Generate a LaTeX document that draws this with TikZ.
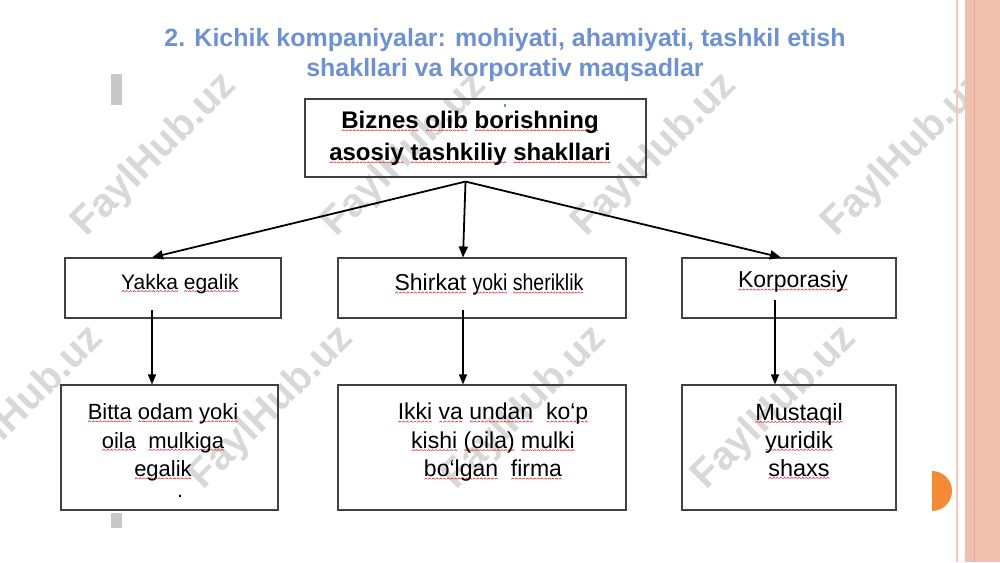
\documentclass[tikz,border=0pt]{standalone}
\usepackage{fontspec}
\setmainfont{Liberation Sans}
\usepackage{graphicx}
\usetikzlibrary{arrows.meta}
\definecolor{titleblue}{HTML}{6E91D2}
\definecolor{boxline}{HTML}{404040}
\definecolor{wm}{HTML}{D8D8D8}
\definecolor{stripe}{HTML}{F9C8B4}
\definecolor{band}{HTML}{EFC0AE}
\definecolor{bandline}{HTML}{E6A890}
\definecolor{orangedot}{HTML}{F58A35}
\definecolor{barg}{HTML}{C8C8C8}
\definecolor{wavered}{HTML}{E83030}
\newsavebox\wavebox
\newsavebox\wvtmp
\newcommand\wv[1]{\sbox\wvtmp{#1}\rlap{\lower2.6pt\hbox to\wd\wvtmp{\xleaders\copy\wavebox\hfil}}\usebox\wvtmp}
\begin{document}
\sbox\wavebox{\begin{pgfpicture}%
  \pgfsetlinewidth{0.6pt}\pgfsetstrokecolor{wavered}%
  \pgfpathmoveto{\pgfpoint{0pt}{0pt}}%
  \pgfpathlineto{\pgfpoint{1.5pt}{1.2pt}}%
  \pgfpathlineto{\pgfpoint{3pt}{0pt}}%
  \pgfusepath{stroke}%
  \end{pgfpicture}}%
\begin{tikzpicture}[x=1pt,y=-1pt,
  box/.style={draw=boxline,line width=1.1pt,inner sep=0pt},
  lbl/.style={align=center,inner sep=0pt,text=black},
  arr/.style={-{Triangle[length=11pt,width=9pt]},line width=1.8pt},
  varr/.style={-{Triangle[length=10pt,width=8pt]},line width=1.3pt},
  wmark/.style={text=wm,font=\fontsize{40}{40}\selectfont\bfseries,rotate=45,inner sep=0pt}]
\useasboundingbox (0,0) rectangle (1000,562);
\clip (0,0) rectangle (1000,562);
\fill[white] (0,0) rectangle (1000,562);
% watermarks
\node[wmark] (w1) at (155,155) {FaylHub.uz};
\node[wmark] (w2) at (405,155) {FaylHub.uz};
\node[wmark] (w3) at (655,155) {FaylHub.uz};
\node[wmark] (w4) at (905,155) {FaylHub.uz};
\node[wmark] (w5) at (22,408) {FaylHub.uz};
\node[wmark] (w6) at (272,408) {FaylHub.uz};
\node[wmark] (w7) at (525,408) {FaylHub.uz};
\node[wmark] (w8) at (775,408) {FaylHub.uz};
% right decoration
\fill[band] (965,0) rectangle (1000,562);
\draw[bandline,line width=1pt] (974,0) -- (974,562);
\draw[stripe,line width=2.5pt] (957,0) -- (957,562);
\begin{scope}
  \clip (932,460) rectangle (960,520);
  \fill[orangedot] (932,491) circle (20pt);
\end{scope}
% left bars
\fill[barg] (111,74) rectangle (122,105);
\fill[barg] (111,513) rectangle (122,528);
% title
\node[lbl,text=titleblue,font=\fontsize{25}{29.5}\selectfont\bfseries] (title) at (505,55)
  {2. Kichik kompaniyalar: mohiyati, ahamiyati, tashkil etish\\shakllari va korporativ maqsadlar};
% boxes
\node[box,minimum width=341pt,minimum height=78pt] (top) at (475.5,138) {};
\node[box,minimum width=216pt,minimum height=60pt] (b1) at (173,288) {};
\node[box,minimum width=288pt,minimum height=60pt] (b2) at (482,288) {};
\node[box,minimum width=214pt,minimum height=60pt] (b3) at (789,288) {};
\node[box,minimum width=217pt,minimum height=125pt] (c1) at (169.5,447.5) {};
\node[box,minimum width=288pt,minimum height=125pt] (c2) at (482,447.5) {};
\node[box,minimum width=214pt,minimum height=125pt] (c3) at (789,447.5) {};
\fill[titleblue] (504,104) rectangle (506,107);
% texts
\node[lbl,font=\fontsize{24}{32}\selectfont\bfseries] (ttop) at (470,138.5)
  {\wv{Biznes} \wv{olib} \wv{borishning}\\\wv{asosiy} \wv{tashkiliy} \wv{shakllari}};
\node[lbl,font=\fontsize{21}{25}\selectfont] (t1) at (180,284) {\wv{Yakka} \wv{egalik}};
\node[lbl,font=\fontsize{23}{25}\selectfont] (t2) at (489,285)
  {\wv{Shirkat} \scalebox{0.85}[1]{\wv{yoki} \wv{sheriklik}}};
\node[lbl,font=\fontsize{23}{25}\selectfont] (t3) at (793,282) {\wv{Korporasiy}};
\node[lbl,font=\fontsize{22}{28.5}\selectfont] (u1) at (163,442.5)
  {\wv{Bitta} \wv{odam} \wv{yoki}\\\wv{oila}\ \ \wv{mulkiga}\\\wv{egalik}};
\node[lbl,font=\fontsize{21}{29}\selectfont] (dot) at (180,496) {.};
\node[lbl,font=\fontsize{23}{28.5}\selectfont] (u2) at (493,442.5)
  {\wv{Ikki} \wv{va} \wv{undan}\ \ \wv{ko‘p}\\\wv{kishi} \wv{(oila)} \wv{mulki}\\\wv{bo‘lgan}\ \ \wv{firma}};
\node[lbl,font=\fontsize{23.5}{28}\selectfont] (u3) at (799,441) {\wv{Mustaqil}\\\wv{yuridik}\\\wv{shaxs}};
% connectors
\coordinate (hub) at ([xshift=-10pt,yshift=-4pt]top.south);
\coordinate (e1) at ([xshift=-21pt]b1.north);
\coordinate (e2) at ([xshift=-19pt]b2.north);
\coordinate (e3) at ([xshift=-8pt]b3.north);
\draw[arr] (hub) -- (e1);
\draw[arr] (hub) -- (e2);
\draw[arr] (hub) -- (e3);
\coordinate (s1) at (152,310);
\coordinate (s2) at (463,310);
\coordinate (s3) at (775,300);
\draw[varr] (s1) -- (s1 |- c1.north);
\draw[varr] (s2) -- (s2 |- c2.north);
\draw[varr] (s3) -- (s3 |- c3.north);
\end{tikzpicture}
\end{document}
